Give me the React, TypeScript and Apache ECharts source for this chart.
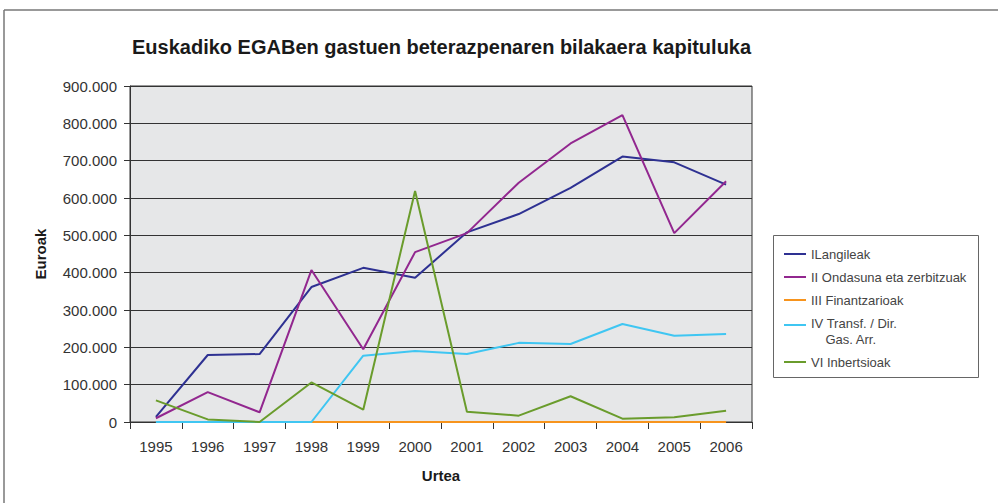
import React, { useEffect, useRef } from "react";
import * as echarts from "echarts";

const years = ["1995", "1996", "1997", "1998", "1999", "2000", "2001", "2002", "2003", "2004", "2005", "2006"];
const langileak = [14000, 179500, 182000, 361500, 413000, 386500, 508000, 557000, 627000, 711000, 695500, 636000];
const ondasuna = [10000, 80000, 26000, 407000, 195000, 455000, 506000, 641000, 746000, 822000, 506000, 645000];
const finantzarioak = [0, 0, 0, 0, 0, 0, 0, 0, 0, 0, 0, 0];
const transf = [0, 0, 0, 0, 177500, 190000, 182000, 212000, 209000, 262500, 231000, 235500];
const inbertsioak = [58000, 7000, 0, 106000, 33000, 619000, 27500, 17000, 69000, 9000, 13000, 30000];

const seriesNames = [
  "ILangileak",
  "II Ondasuna eta zerbitzuak",
  "III Finantzarioak",
  "IV Transf. / Dir.\n    Gas. Arr.",
  "VI Inbertsioak",
];
const seriesColors = ["#2e3192", "#92278f", "#f7941d", "#3fc6f2", "#6a9c2c"];
const seriesData = [langileak, ondasuna, finantzarioak, transf, inbertsioak];

const FONT = "'Liberation Sans', Arial, sans-serif";

export default function App() {
  const ref = useRef<HTMLDivElement>(null);
  useEffect(() => {
    if (!ref.current) return;
    const chart = echarts.init(ref.current, null, { renderer: "svg" });
    chart.setOption({
      animation: false,
      backgroundColor: "#ffffff",
      textStyle: { fontFamily: FONT },
      title: {
        text: "Euskadiko EGABen gastuen beterazpenaren bilakaera kapituluka",
        left: 132,
        top: 37,
        padding: 0,
        textStyle: { fontFamily: FONT, fontSize: 20, fontWeight: "bold", color: "#1a1a1a" },
      },
      graphic: [
        { type: "line", shape: { x1: 4, y1: 10, x2: 998, y2: 10 }, style: { stroke: "#777", lineWidth: 1.5 } },
        { type: "line", shape: { x1: 4, y1: 10, x2: 4, y2: 503 }, style: { stroke: "#777", lineWidth: 1.5 } },
        {
          type: "rect",
          shape: { x: 773.5, y: 235.5, width: 205, height: 142 },
          style: { fill: "#fff", stroke: "#666", lineWidth: 1 },
          z: -1,
        },
      ],
      legend: {
        orient: "vertical",
        left: 784,
        top: 246,
        padding: 0,
        itemWidth: 22,
        itemHeight: 14,
        itemGap: 7,
        icon: "path://M0,6h22v2h-22z",
        data: seriesNames.map((n, i) =>
          i === 3
            ? { name: n, icon: "path://M0,0h22v2h-22z M0,14h0.01v0.01h-0.01z" }
            : { name: n }
        ),
        textStyle: { fontFamily: FONT, fontSize: 13, color: "#444", lineHeight: 16 },
      },
      grid: {
        left: 130,
        right: 246,
        top: 86,
        bottom: 81,
        show: true,
        backgroundColor: "#e6e7e8",
        borderColor: "#333",
        borderWidth: 1,
      },
      xAxis: {
        type: "category",
        data: years,
        boundaryGap: true,
        name: "Urtea",
        nameLocation: "middle",
        nameGap: 46,
        nameTextStyle: { fontFamily: FONT, fontSize: 15, fontWeight: "bold", color: "#1a1a1a" },
        axisLine: { lineStyle: { color: "#333", width: 1 } },
        axisTick: { show: true, length: 7, lineStyle: { color: "#333" } },
        axisLabel: { fontFamily: FONT, fontSize: 15, color: "#333", margin: 17 },
      },
      yAxis: {
        type: "value",
        min: 0,
        max: 900000,
        interval: 100000,
        name: "Euroak",
        nameLocation: "middle",
        nameRotate: 90,
        nameGap: 82,
        nameTextStyle: { fontFamily: FONT, fontSize: 15, fontWeight: "bold", color: "#1a1a1a" },
        axisLine: { show: true, lineStyle: { color: "#333", width: 1 } },
        axisTick: { show: true, length: 6, lineStyle: { color: "#333" } },
        splitLine: { show: true, lineStyle: { color: "#333", width: 1 } },
        axisLabel: {
          fontFamily: FONT,
          fontSize: 15,
          color: "#333",
          margin: 13,
          formatter: (v: number) => (v === 0 ? "0" : (v / 1000).toFixed(0) + ".000"),
        },
      },
      series: seriesNames.map((n, i) => ({
        name: n,
        type: "line",
        data: seriesData[i],
        symbol: "none",
        z: 10 + i,
        color: seriesColors[i],
        lineStyle: { color: seriesColors[i], width: 2 },
      })),
    });
    return () => chart.dispose();
  }, []);
  return (
    <div
      ref={ref}
      style={{ position: "absolute", left: 0, top: 0, width: 998, height: 503, background: "#fff" }}
    />
  );
}
